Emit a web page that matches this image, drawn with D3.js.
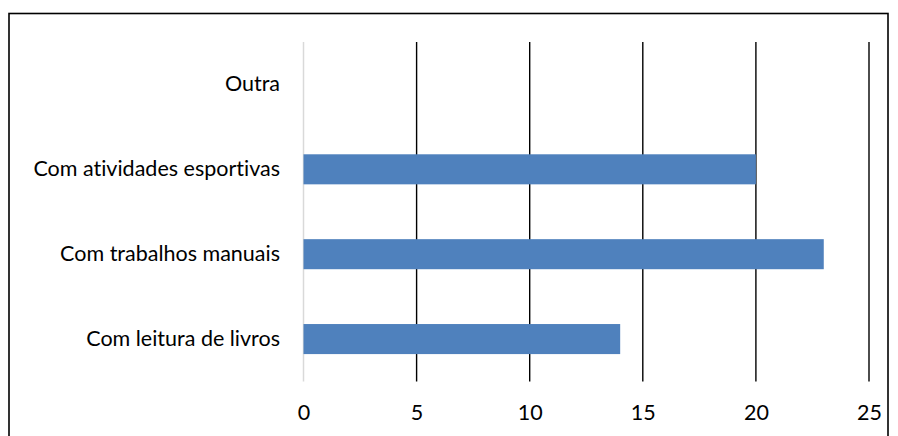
<!DOCTYPE html>
<html>
<head>
<meta charset="utf-8">
<script src="https://cdn.jsdelivr.net/npm/d3@7"></script>
<style>
  html, body { margin: 0; padding: 0; background: #fff; }
  svg { display: block; }
  text { font-family: Lato, "Open Sans", sans-serif; fill: #000; font-variant-ligatures: none; }
</style>
</head>
<body>
<svg id="chart" width="898" height="436"></svg>
<script>
// Categories listed bottom to top as they appear on the chart
const categories = ["Com leitura de livros", "Com trabalhos manuais", "Com atividades esportivas", "Outra"];
const values = [14, 23, 20, 0];
const tickValues = [0, 5, 10, 15, 20, 25];

const svg = d3.select("#chart");
const FONT = 21.5;

// Outer frame of the chart area
svg.append("rect")
  .attr("x", 9).attr("y", 13.5)
  .attr("width", 879).attr("height", 440)
  .attr("fill", "#fff")
  .attr("stroke", "#000")
  .attr("stroke-width", 1.6);

const plot = { left: 303.5, right: 869, top: 42, bottom: 381.5 };

const x = d3.scaleLinear().domain([0, 25]).range([plot.left, plot.right]);
const y = d3.scaleBand()
  .domain(categories.slice().reverse())
  .range([plot.top, plot.bottom])
  .paddingInner(0.646)
  .paddingOuter(0.323);

// Vertical gridlines
svg.append("g").selectAll("line")
  .data(tickValues)
  .join("line")
  .attr("x1", d => x(d)).attr("x2", d => x(d))
  .attr("y1", plot.top).attr("y2", plot.bottom)
  .attr("stroke", d => d === 0 ? "#d9d9d9" : "#000")
  .attr("stroke-width", d => d === 0 ? 1.5 : 1.4);

// Bars
svg.append("g").selectAll("rect")
  .data(categories.map((c, i) => ({ c, v: values[i] })).filter(d => d.v > 0))
  .join("rect")
  .attr("x", x(0))
  .attr("y", d => y(d.c))
  .attr("width", d => x(d.v) - x(0))
  .attr("height", y.bandwidth())
  .attr("fill", "#4f81bd");

// Value axis labels
const xAxis = d3.axisBottom(x).tickValues(tickValues).tickSize(0).tickPadding(0);
svg.append("g")
  .attr("transform", `translate(0, ${plot.bottom + 23.5})`)
  .call(xAxis)
  .call(g => g.select(".domain").remove())
  .call(g => g.selectAll("text")
    .attr("font-family", "Lato, 'Open Sans', sans-serif")
    .attr("font-size", FONT)
    .attr("fill", "#000"));

// Category labels
const yAxis = d3.axisLeft(y).tickSize(0).tickPadding(0);
svg.append("g")
  .attr("transform", `translate(${plot.left - 23.5}, 0)`)
  .call(yAxis)
  .call(g => g.select(".domain").remove())
  .call(g => g.selectAll("text")
    .attr("font-family", "Lato, 'Open Sans', sans-serif")
    .attr("font-size", FONT)
    .attr("fill", "#000"));
</script>
</body>
</html>
